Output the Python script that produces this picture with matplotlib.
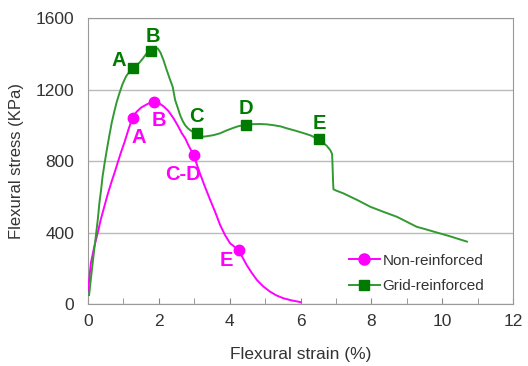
import matplotlib
matplotlib.use("Agg")
import matplotlib.pyplot as plt
from matplotlib.ticker import MultipleLocator
from matplotlib.lines import Line2D

plt.rcParams['font.family'] = ['Liberation Sans', 'DejaVu Sans']

# Curves
non_x = [0.0, 0.08, 0.17, 0.27, 0.36, 0.46, 0.55, 0.65, 0.75, 0.84, 0.93, 1.03, 1.14, 1.25, 1.37, 1.50, 1.69, 1.85, 2.0, 2.13, 2.27, 2.41, 2.53, 2.65, 2.75, 2.83, 2.98, 3.16, 3.3, 3.45, 3.6, 3.73, 3.87, 4.01, 4.25, 4.48, 4.62, 4.77, 4.95, 5.14, 5.32, 5.52, 5.73, 5.94, 6.0]
non_y = [70, 228, 315, 395, 472, 545, 610, 675, 735, 792, 848, 905, 975, 1040, 1075, 1099, 1120, 1130, 1124, 1106, 1080, 1040, 1000, 955, 925, 890, 834, 731, 657, 582, 510, 442, 385, 340, 302, 218, 175, 134, 98, 69, 48, 32, 21, 13, 10]
grid_x = [0.03, 0.08, 0.13, 0.18, 0.23, 0.28, 0.32, 0.37, 0.41, 0.47, 0.53, 0.6, 0.67, 0.74, 0.81, 0.88, 0.97, 1.07, 1.17, 1.28, 1.36, 1.45, 1.55, 1.64, 1.77, 1.88, 1.97, 2.05, 2.13, 2.22, 2.32, 2.39, 2.46, 2.53, 2.6, 2.67, 2.74, 2.81, 2.88, 2.97, 3.07, 3.16, 3.26, 3.4, 3.55, 3.73, 3.9, 4.1, 4.25, 4.43, 4.65, 4.86, 5.05, 5.25, 5.45, 5.61, 5.85, 6.1, 6.3, 6.51, 6.62, 6.74, 6.84, 6.89, 6.9, 6.91, 6.92, 6.93, 7.0, 7.21, 7.6, 7.97, 8.35, 8.72, 9.0, 9.28, 9.5, 9.76, 10.2, 10.7]
grid_y = [50, 140, 228, 312, 395, 480, 563, 640, 712, 790, 861, 940, 1015, 1075, 1130, 1175, 1228, 1272, 1300, 1320, 1334, 1350, 1374, 1398, 1415, 1427, 1430, 1405, 1365, 1310, 1253, 1216, 1141, 1100, 1057, 1025, 1001, 985, 973, 962, 955, 944, 936, 940, 945, 955, 970, 985, 995, 1001, 1006, 1007, 1005, 1000, 993, 983, 970, 955, 942, 921, 905, 885, 861, 840, 800, 740, 680, 642, 635, 619, 582, 544, 515, 488, 460, 432, 420, 405, 380, 349]

# Marked points
non_px = [1.27, 1.85, 2.98, 4.25]
non_py = [1039, 1128, 835, 302]
non_lab = ['A', 'B', 'C-D', 'E']
grid_px = [1.28, 1.77, 3.07, 4.45, 6.53]
grid_py = [1320, 1415, 955, 1003, 921]
grid_lab = ['A', 'B', 'C', 'D', 'E']

MAG = '#FF00FF'
GRN = '#007A00'
GRN_LINE = '#339933'

fig = plt.figure(figsize=(5.28, 3.66), dpi=100)
ax = fig.add_axes([0.1667, 0.1694, 0.8049, 0.7814])

ax.plot(non_x, non_y, color=MAG, lw=1.4, zorder=3, solid_joinstyle='round')
ax.plot(grid_x, grid_y, color=GRN_LINE, lw=1.4, zorder=3, solid_joinstyle='round')
ax.plot(non_px, non_py, 'o', color=MAG, ms=7.5, zorder=4)
ax.plot(grid_px, grid_py, 's', color=GRN, ms=7.5, zorder=4)

non_off = [(0.15, -110), (0.15, -100), (-0.3, -110), (-0.35, -60)]
grid_off = [(-0.4, 45), (0.05, 80), (0.0, 95), (0.0, 90), (0.0, 90)]
for x, y, t, (dx, dy) in zip(non_px, non_py, non_lab, non_off):
    ax.text(x + dx, y + dy, t, color=MAG, fontsize=14.5, fontweight='bold', ha='center', va='center', zorder=5)
for x, y, t, (dx, dy) in zip(grid_px, grid_py, grid_lab, grid_off):
    ax.text(x + dx, y + dy, t, color=GRN, fontsize=14.5, fontweight='bold', ha='center', va='center', zorder=5)

ax.set_xlim(0, 12)
ax.set_ylim(0, 1600)
ax.xaxis.set_major_locator(MultipleLocator(2))
ax.xaxis.set_minor_locator(MultipleLocator(1))
ax.yaxis.set_major_locator(MultipleLocator(400))
ax.yaxis.grid(True, color='#BBBBBB', lw=1.0)
ax.set_axisbelow(True)
for s in ax.spines.values():
    s.set_color('#999999')
ax.tick_params(axis='x', which='both', direction='in', length=4, color='#888888', labelsize=12.5, labelcolor='#333333', pad=7)
ax.tick_params(axis='y', which='both', length=0, labelsize=12.5, labelcolor='#333333', pad=10)
ax.set_xlabel('Flexural strain (%)', fontsize=12.5, color='#333333', labelpad=13)
ax.set_ylabel('Flexural stress (KPa)', fontsize=12, color='#333333', labelpad=8)

handles = [Line2D([0], [0], color=MAG, lw=1.4, marker='o', ms=8, mfc=MAG, mec=MAG),
           Line2D([0], [0], color=GRN_LINE, lw=1.4, marker='s', ms=7.5, mfc=GRN, mec=GRN)]
ax.legend(handles, ['Non-reinforced', 'Grid-reinforced'], loc='lower right', bbox_to_anchor=(0.965, -0.01),
          frameon=False, fontsize=11, handlelength=2.0, labelspacing=0.75, handletextpad=0.2,
          labelcolor='#333333')

fig.savefig('out.png', dpi=100)
